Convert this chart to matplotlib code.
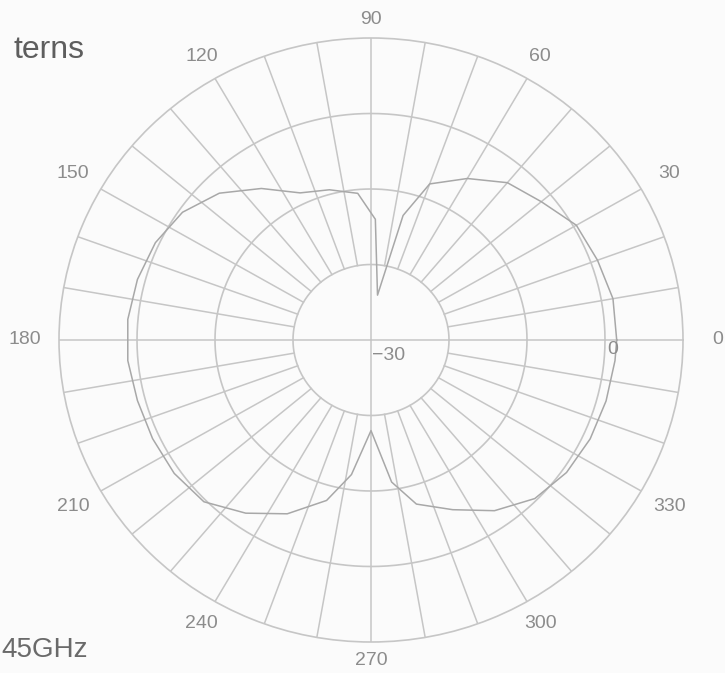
import numpy as np
import matplotlib
matplotlib.use("Agg")
import matplotlib.pyplot as plt
from matplotlib.transforms import offset_copy

# ---- data ----
angles_deg = [0, 10, 20, 30, 40, 50, 60, 70, 76, 82, 88, 95, 105, 115, 125, 135,
              145, 155, 165, 175, 185, 195, 205, 215, 225, 235, 245, 255, 262,
              270, 278, 285, 295, 305, 315, 325, 335, 345, 355, 360]
gain_db = [1.5, 1.5, 0.9, 0.4, -1.5, -2.8, -5.3, -8.0, -13.0, -24.0, -14.0, -10.5,
           -9.4, -8.5, -5.5, -2.5, -0.5, 0.5, 1.0, 1.3, 1.3, 1.0, 0.9, 0.8, 0.3,
           -2.0, -4.6, -8.0, -12.0, -18.0, -11.0, -7.5, -5.2, -2.4, -0.3, 0.6,
           1.0, 1.2, 1.4, 1.5]
ring_values = [-20, -10, 0, 10]
angle_labels = [0, 30, 60, 90, 120, 150, 180, 210, 240, 270, 300, 330]
spoke_step = 10
r_min, r_max = -30, 10
title_text = "terns"
freq_text = "45GHz"

grid_col = "#c6c6c6"
text_col = "#8c8c8c"

fig = plt.figure(figsize=(7.25, 6.73), dpi=100, facecolor="#fbfbfb")
ax = fig.add_axes([59/725, 31/673, 624/725, 604/673], projection="polar")
ax.set_aspect("auto")
ax.set_facecolor("#fbfbfb")
ax.set_rlim(r_min, r_max)
ax.set_xticks([])
ax.set_yticks([])
ax.grid(False)
ax.spines["polar"].set_color(grid_col)
ax.spines["polar"].set_linewidth(1.2)

full = np.linspace(0, 2*np.pi, 721)
for rv in ring_values[:-1]:
    ax.plot(full, np.full_like(full, rv), color=grid_col, lw=1.2, zorder=1)

for a in range(0, 360, spoke_step):
    start = r_min if a % 90 == 0 else ring_values[0]
    t = np.deg2rad(a)
    ax.plot([t, t], [start, r_max], color=grid_col, lw=1.1, zorder=1)

ax.plot(np.deg2rad(angles_deg), gain_db, color="#a8a8a8", lw=1.1, zorder=2)

span = r_max - r_min
for a in angle_labels:
    t = np.deg2rad(a)
    rn = 1.06 + 0.05*abs(np.cos(t))
    ax.text(t, r_min + rn*span, str(a), ha="center", va="center",
            fontsize=14, color=text_col, family="Liberation Sans", clip_on=False)

ax.text(0, r_min, "\u221230", ha="left", va="center", fontsize=14, color=text_col,
        family=["Liberation Sans", "DejaVu Sans"],
        transform=offset_copy(ax.transData, fig=fig, x=1, y=-15, units="dots"))
ax.text(0, 0, "0", ha="center", va="center", fontsize=14, color=text_col,
        family="Liberation Sans",
        transform=offset_copy(ax.transData, fig=fig, x=8, y=-9, units="dots"))

fig.text(84/725, 1 - 58/673, title_text, ha="right", va="baseline", fontsize=23,
         color="#5e5e5e", family="Liberation Sans")
fig.text(88/725, 1 - 657/673, freq_text, ha="right", va="baseline", fontsize=20,
         color="#6a6a6a", family="Liberation Sans")

fig.savefig("out.png", dpi=100, facecolor=fig.get_facecolor())
